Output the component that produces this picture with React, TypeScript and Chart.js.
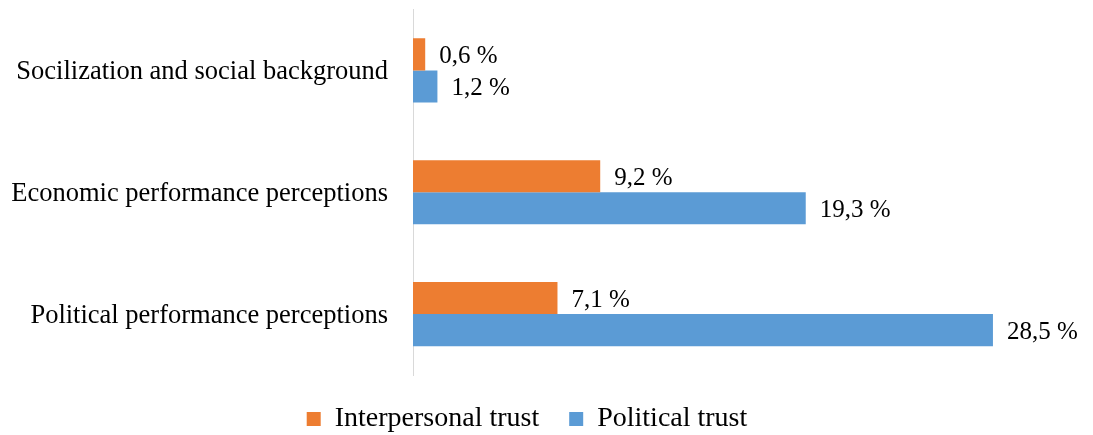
import React, { useEffect, useRef } from 'react';
import { Chart, registerables } from 'chart.js';

Chart.register(...registerables);

const categories = [
  'Socilization and social background',
  'Economic performance perceptions',
  'Political performance perceptions',
];
const seriesNames = ['Interpersonal trust', 'Political trust'];
const interpersonalTrust = [0.6, 9.2, 7.1];
const politicalTrust = [1.2, 19.3, 28.5];
const xMin = 0;
const xMax = 31.5;

const FONT = '"Liberation Serif", "Times New Roman", serif';

const valueLabels = {
  id: 'valueLabels',
  afterDatasetsDraw(chart: any) {
    const ctx = chart.ctx;
    ctx.save();
    ctx.font = `25px ${FONT}`;
    ctx.fillStyle = '#000000';
    ctx.textAlign = 'left';
    ctx.textBaseline = 'middle';
    chart.data.datasets.forEach((ds: any, di: number) => {
      const meta = chart.getDatasetMeta(di);
      meta.data.forEach((bar: any, i: number) => {
        const v = ds.data[i] as number;
        const txt = v.toFixed(1).replace('.', ',') + ' %';
        ctx.fillText(txt, bar.x + 14, bar.y + 2);
      });
    });
    ctx.restore();
  },
};

export default function App() {
  const ref = useRef<HTMLCanvasElement | null>(null);

  useEffect(() => {
    if (!ref.current) return;
    const chart = new Chart(ref.current, {
      type: 'bar',
      data: {
        labels: categories,
        datasets: [
          {
            label: seriesNames[0],
            data: interpersonalTrust,
            backgroundColor: '#ED7D31',
            borderWidth: 0,
            categoryPercentage: 0.526,
            barPercentage: 1,
          },
          {
            label: seriesNames[1],
            data: politicalTrust,
            backgroundColor: '#5B9BD5',
            borderWidth: 0,
            categoryPercentage: 0.526,
            barPercentage: 1,
          },
        ],
      },
      options: {
        indexAxis: 'y',
        animation: false,
        responsive: false,
        layout: { padding: { top: 9.5, left: 0, right: 39, bottom: 0 } },
        scales: {
          x: {
            min: xMin,
            max: xMax,
            display: false,
          },
          y: {
            grid: { display: false, drawTicks: false },
            border: { display: true, color: '#d9d9d9', width: 1 },
            ticks: {
              padding: 25,
              labelOffset: 2,
              color: '#000000',
              font: { family: FONT, size: 26.5 },
            },
            afterFit: (s: any) => {
              s.width = 413;
              s.paddingTop = 0;
              s.paddingBottom = 0;
            },
          },
        },
        plugins: {
          legend: {
            position: 'bottom',
            labels: {
              boxWidth: 14,
              boxHeight: 14,
              padding: 30,
              color: '#000000',
              font: { family: FONT, size: 28 },
            },
          },
          tooltip: { enabled: false },
        },
      } as any,
      plugins: [valueLabels],
    });
    return () => chart.destroy();
  }, []);

  return (
    <div
      style={{
        position: 'fixed',
        left: 0,
        top: 0,
        width: 1093,
        height: 435,
        overflow: 'hidden',
        background: '#ffffff',
      }}
    >
      <canvas ref={ref} width={1093} height={443} style={{ width: 1093, height: 443, display: 'block' }} />
    </div>
  );
}
